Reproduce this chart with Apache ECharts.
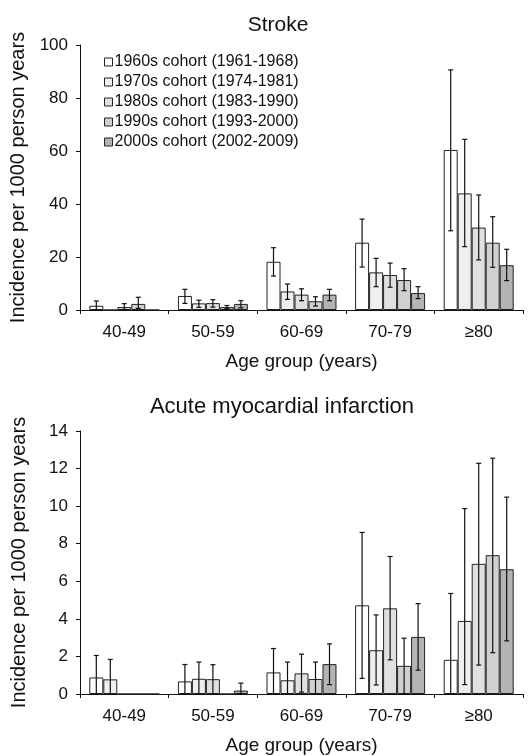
<!DOCTYPE html>
<html>
<head>
<meta charset="utf-8">
<script src="https://cdn.jsdelivr.net/npm/echarts@6/dist/echarts.min.js"></script>
<style>
  html, body { margin: 0; padding: 0; background: #fff; }
  #chart { width: 530px; height: 756px; }
</style>
</head>
<body>
<div id="chart"></div>
<script>
// age groups and cohorts
const ageGroups = ['40-49', '50-59', '60-69', '70-79', '≥80'];
const cohorts = [
  '1960s cohort (1961-1968)',
  '1970s cohort (1974-1981)',
  '1980s cohort (1983-1990)',
  '1990s cohort (1993-2000)',
  '2000s cohort (2002-2009)'
];
const fills = ['#ffffff', '#efefef', '#e0e0e0', '#d0d0d0', '#b4b4b4'];

// Stroke incidence (per 1000 person years), with 95% CI
const strokeVal = [
  [1.6, 5.3, 18.2, 25.4, 60.4],
  [0, 2.5, 7.0, 14.2, 44.0],
  [1.1, 2.6, 5.8, 13.2, 31.1],
  [2.3, 1.1, 3.3, 11.3, 25.4],
  [0, 2.3, 5.8, 6.4, 16.9]
];
const strokeLo = [
  [0, 2.5, 12.8, 16.2, 29.9],
  [null, 1.0, 4.0, 8.8, 23.9],
  [0.2, 1.1, 3.5, 8.6, 18.9],
  [0.6, 0.5, 1.5, 7.3, 16.1],
  [null, 0.8, 3.5, 4.3, 11.1]
];
const strokeHi = [
  [3.4, 7.8, 23.5, 34.3, 90.6],
  [null, 3.7, 9.8, 19.5, 64.4],
  [2.4, 3.9, 8.0, 17.7, 43.4],
  [4.8, 1.7, 5.0, 15.6, 35.2],
  [null, 3.5, 7.8, 8.8, 22.9]
];

// Acute myocardial infarction incidence
const amiVal = [
  [0.88, 0.67, 1.15, 4.72, 1.82],
  [0.78, 0.81, 0.73, 2.33, 3.89],
  [0, 0.79, 1.10, 4.56, 6.93],
  [0, 0, 0.80, 1.50, 7.39],
  [0, 0.18, 1.59, 3.04, 6.64]
];
const amiLo = [
  [0, 0, 0, 0.83, 0],
  [0, 0, 0, 0.48, 0.5],
  [null, 0, 0.1, 1.82, 1.54],
  [null, null, 0, 0, 2.2],
  [null, 0, 0.5, 1.27, 2.83]
];
const amiHi = [
  [2.05, 1.57, 2.42, 8.6, 5.35],
  [1.84, 1.70, 1.70, 4.21, 9.87],
  [null, 1.56, 2.12, 7.32, 12.28],
  [null, null, 1.70, 2.97, 12.55],
  [null, 0.58, 2.67, 4.81, 10.48]
];

const FONT = 'Liberation Sans';
const catGap = 0.21;

function errData(lo, hi) {
  const out = [];
  for (let k = 0; k < lo.length; k++) {
    for (let c = 0; c < lo[k].length; c++) {
      if (hi[k][c] == null) continue;
      out.push([c, k, lo[k][c], hi[k][c]]);
    }
  }
  return out;
}

function renderErr(params, api) {
  const cat = api.value(0);
  const k = api.value(1);
  const p0 = api.coord([cat, api.value(2)]);
  const p1 = api.coord([cat, api.value(3)]);
  const bw = api.size([1, 0])[0] * (1 - catGap) / 5;
  const x = p0[0] + (k - 2) * bw;
  const cap = 2.5;
  const st = { stroke: '#111', lineWidth: 1.2 };
  return {
    type: 'group',
    children: [
      { type: 'line', shape: { x1: x, y1: p0[1], x2: x, y2: p1[1] }, style: st },
      { type: 'line', shape: { x1: x - cap, y1: p1[1], x2: x + cap, y2: p1[1] }, style: st },
      { type: 'line', shape: { x1: x - cap, y1: p0[1], x2: x + cap, y2: p0[1] }, style: st }
    ]
  };
}

function xAxisFor(idx) {
  return {
    type: 'category',
    gridIndex: idx,
    data: ageGroups,
    name: 'Age group (years)',
    nameLocation: 'middle',
    nameGap: 42,
    nameTextStyle: { fontFamily: FONT, fontSize: 19, color: '#111' },
    axisLine: { lineStyle: { color: '#111', width: 1 } },
    axisTick: { show: true, length: 4, lineStyle: { color: '#111' } },
    axisLabel: { fontFamily: FONT, fontSize: 17, color: '#111', margin: 14 }
  };
}

function yAxisFor(idx, max, interval) {
  return {
    type: 'value',
    gridIndex: idx,
    min: 0,
    max: max,
    interval: interval,
    name: 'Incidence per 1000 person years',
    nameLocation: 'middle',
    nameGap: 51,
    nameTextStyle: { fontFamily: FONT, fontSize: 20, color: '#111' },
    axisLine: { show: true, lineStyle: { color: '#111', width: 1 } },
    axisTick: { show: true, length: 4, lineStyle: { color: '#111' } },
    axisLabel: { fontFamily: FONT, fontSize: 17, color: '#111', margin: 12 },
    splitLine: { show: false }
  };
}

const series = [];
[[strokeVal, 0], [amiVal, 1]].forEach(([vals, g]) => {
  vals.forEach((v, k) => {
    series.push({
      name: cohorts[k],
      type: 'bar',
      xAxisIndex: g,
      yAxisIndex: g,
      data: v,
      barGap: '0%',
      barCategoryGap: (catGap * 100) + '%',
      itemStyle: { color: fills[k], borderColor: '#222', borderWidth: 1 },
      emphasis: { disabled: true }
    });
  });
});
series.push({
  type: 'custom', xAxisIndex: 0, yAxisIndex: 0, z: 10,
  renderItem: renderErr, data: errData(strokeLo, strokeHi)
});
series.push({
  type: 'custom', xAxisIndex: 1, yAxisIndex: 1, z: 10,
  renderItem: renderErr, data: errData(amiLo, amiHi)
});

const chart = echarts.init(document.getElementById('chart'));
chart.setOption({
  animation: false,
  backgroundColor: '#fff',
  title: [
    { text: 'Stroke', left: 273, top: 10, textAlign: 'center',
      textStyle: { fontFamily: FONT, fontSize: 21, fontWeight: 'normal', color: '#111' } },
    { text: 'Acute myocardial infarction', left: 277, top: 391, textAlign: 'center',
      textStyle: { fontFamily: FONT, fontSize: 22, fontWeight: 'normal', color: '#111' } }
  ],
  legend: {
    data: cohorts,
    orient: 'vertical',
    left: 104,
    top: 54,
    padding: 0,
    icon: 'rect',
    itemWidth: 8,
    itemHeight: 8,
    itemGap: 4,
    itemStyle: { borderColor: '#222', borderWidth: 1 },
    textStyle: { fontFamily: FONT, fontSize: 16, color: '#111', padding: [0, 0, 0, -3] }
  },
  grid: [
    { left: 80, right: 7, top: 45, height: 265 },
    { left: 80, right: 7, top: 431, height: 264 }
  ],
  xAxis: [xAxisFor(0), xAxisFor(1)],
  yAxis: [yAxisFor(0, 100, 20), yAxisFor(1, 14, 2)],
  series: series
});
</script>
</body>
</html>
